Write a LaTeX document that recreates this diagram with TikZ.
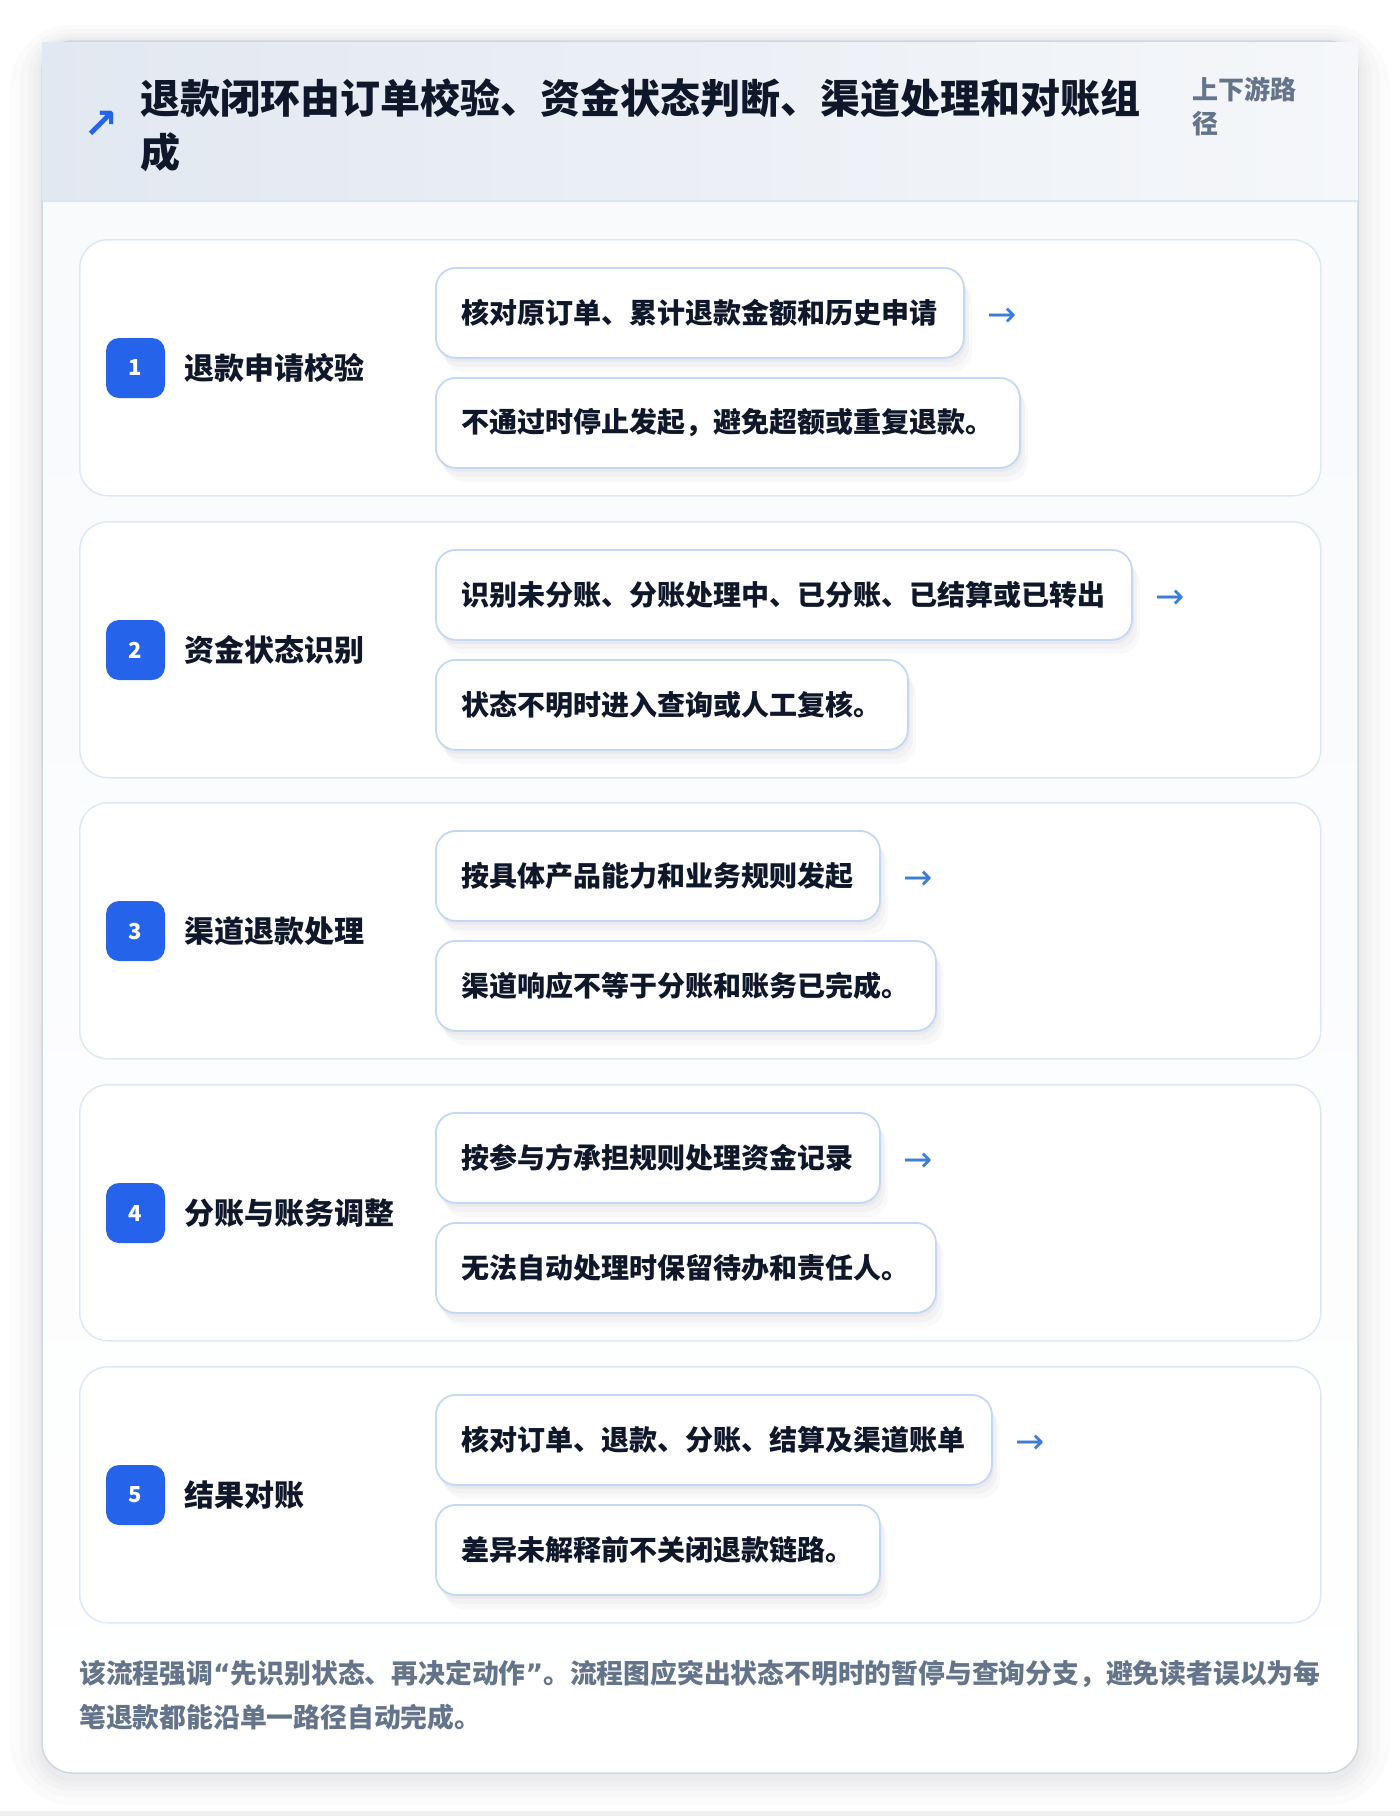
\documentclass[tikz,border=0pt]{standalone}
\usepackage{fontspec}
\setmainfont{Noto Sans CJK SC}
\newfontfamily\arrowfont{DejaVu Sans}
\usetikzlibrary{positioning}

\definecolor{cardline}{HTML}{CDD6E3}
\definecolor{headleft}{HTML}{E2E8F1}
\definecolor{headright}{HTML}{F5F7FA}
\definecolor{headrule}{HTML}{DBE6F5}
\definecolor{bodybg}{HTML}{F7F9FC}
\definecolor{stepline}{HTML}{DDE8F7}
\definecolor{detailline}{HTML}{C3D8F4}
\definecolor{badgeblue}{HTML}{2563EB}
\definecolor{arrowblue}{HTML}{3B7DDD}
\definecolor{ink}{HTML}{0F172A}
\definecolor{mutedink}{HTML}{64748B}
\definecolor{shade}{HTML}{1E293B}

\tikzset{
	stepbox/.style={anchor=north west, draw=stepline, line width=1.5pt, fill=white, rounded corners=28pt, minimum width=1241pt, minimum height=256pt, inner sep=0pt},
	badge/.style={fill=badgeblue, rounded corners=13pt, minimum width=59pt, minimum height=60pt, inner sep=0pt, text=white, font=\bfseries\fontsize{22}{22}\selectfont},
	steptitle/.style={anchor=west, inner sep=0pt, text=ink, font=\bfseries\fontsize{30}{36}\selectfont},
	detail/.style={anchor=north west, draw=detailline, line width=1.8pt, fill=white, rounded corners=20pt, minimum height=90pt, inner xsep=26pt, inner ysep=0pt, text=ink, font=\bfseries\fontsize{28}{34}\selectfont,
		preaction={fill=shade, fill opacity=0.025, draw=none, transform canvas={xshift=8pt, yshift=-14pt}},
		preaction={fill=shade, fill opacity=0.03, draw=none, transform canvas={xshift=5pt, yshift=-9pt}},
		preaction={fill=shade, fill opacity=0.035, draw=none, transform canvas={xshift=2pt, yshift=-4pt}}},
	flowarrow/.style={anchor=west, inner sep=0pt, text=arrowblue, font=\arrowfont\fontsize{35}{35}\selectfont},
	cardshade/.style={fill=shade, fill opacity=0.014}
}
\newcommand{\openquote}{{\arrowfont\bfseries “}}
\newcommand{\closequote}{{\arrowfont\bfseries ”}}

\begin{document}
\begin{tikzpicture}[x=1pt, y=1pt]
			\useasboundingbox (0,0) rectangle (1400,-1816);
			\fill[white] (0,0) rectangle (1400,-1816);
			\fill[black!6] (0,-1811) rectangle (1400,-1816);
			\fill[cardshade, rounded corners=62pt] (10,-25) rectangle (1390,-1805);
			\fill[cardshade, rounded corners=52pt] (20,-29) rectangle (1380,-1797);
			\fill[cardshade, rounded corners=44pt] (28,-33) rectangle (1372,-1791);
			\fill[cardshade, rounded corners=38pt] (34,-36) rectangle (1366,-1786);
			\fill[cardshade, rounded corners=34pt] (38,-38) rectangle (1362,-1781);
			\fill[white, rounded corners=30pt] (42,-41) rectangle (1358,-1773);
			\shade[top color=bodybg, bottom color=white, rounded corners=30pt] (42,-41) rectangle (1358,-1773);
			\draw[cardline, line width=1.5pt, rounded corners=30pt] (42,-41) rectangle (1358,-1773);
			\shade[left color=headleft, right color=headright] (42,-42) rectangle (1358,-201);
			\draw[headrule, line width=1.5pt] (42,-201) -- (1358,-201);
			\node[anchor=center, inner sep=0pt, text=badgeblue, font=\arrowfont\bfseries\fontsize{42}{42}\selectfont] (icon) at (101,-125) {↗};
			\node[anchor=west, inner sep=0pt, align=left, text=ink, font=\bfseries\fontsize{40}{54}\selectfont] (heading) at (140,-125) {退款闭环由订单校验、资金状态判断、渠道处理和对账组\\成};
			\node[anchor=west, inner sep=0pt, align=left, text=mutedink, font=\bfseries\fontsize{26}{34}\selectfont] (scope) at (1192,-106) {上下游路\\径};

			\node[stepbox] (s1) at (79,-239) {};
			\node[badge] (b1) at (135.5,-368) {1};
			\node[steptitle, right=19pt of b1] (t1) {退款申请校验};
			\node[detail] (d1a) at (435,-267) {核对原订单、累计退款金额和历史申请};
			\node[detail] (d1b) at (435,-377) {不通过时停止发起，避免超额或重复退款。};
			\node[flowarrow, right=22pt of d1a, yshift=-4pt] (a1) {→};

			\node[stepbox] (s2) at (79,-521) {};
			\node[badge] (b2) at (135.5,-650) {2};
			\node[steptitle, right=19pt of b2] (t2) {资金状态识别};
			\node[detail] (d2a) at (435,-549) {识别未分账、分账处理中、已分账、已结算或已转出};
			\node[detail] (d2b) at (435,-659) {状态不明时进入查询或人工复核。};
			\node[flowarrow, right=22pt of d2a, yshift=-4pt] (a2) {→};

			\node[stepbox] (s3) at (79,-802) {};
			\node[badge] (b3) at (135.5,-931) {3};
			\node[steptitle, right=19pt of b3] (t3) {渠道退款处理};
			\node[detail] (d3a) at (435,-830) {按具体产品能力和业务规则发起};
			\node[detail] (d3b) at (435,-940) {渠道响应不等于分账和账务已完成。};
			\node[flowarrow, right=22pt of d3a, yshift=-4pt] (a3) {→};

			\node[stepbox] (s4) at (79,-1084) {};
			\node[badge] (b4) at (135.5,-1213) {4};
			\node[steptitle, right=19pt of b4] (t4) {分账与账务调整};
			\node[detail] (d4a) at (435,-1112) {按参与方承担规则处理资金记录};
			\node[detail] (d4b) at (435,-1222) {无法自动处理时保留待办和责任人。};
			\node[flowarrow, right=22pt of d4a, yshift=-4pt] (a4) {→};

			\node[stepbox] (s5) at (79,-1366) {};
			\node[badge] (b5) at (135.5,-1495) {5};
			\node[steptitle, right=19pt of b5] (t5) {结果对账};
			\node[detail] (d5a) at (435,-1394) {核对订单、退款、分账、结算及渠道账单};
			\node[detail] (d5b) at (435,-1504) {差异未解释前不关闭退款链路。};
			\node[flowarrow, right=22pt of d5a, yshift=-4pt] (a5) {→};

			\node[anchor=west, inner sep=0pt, align=left, text=mutedink, font=\bfseries\fontsize{26.8}{44}\selectfont] (note) at (79,-1695) {该流程强调\openquote 先识别状态、再决定动作\closequote 。流程图应突出状态不明时的暂停与查询分支，避免读者误以为每\\笔退款都能沿单一路径自动完成。};
\end{tikzpicture}
\end{document}
